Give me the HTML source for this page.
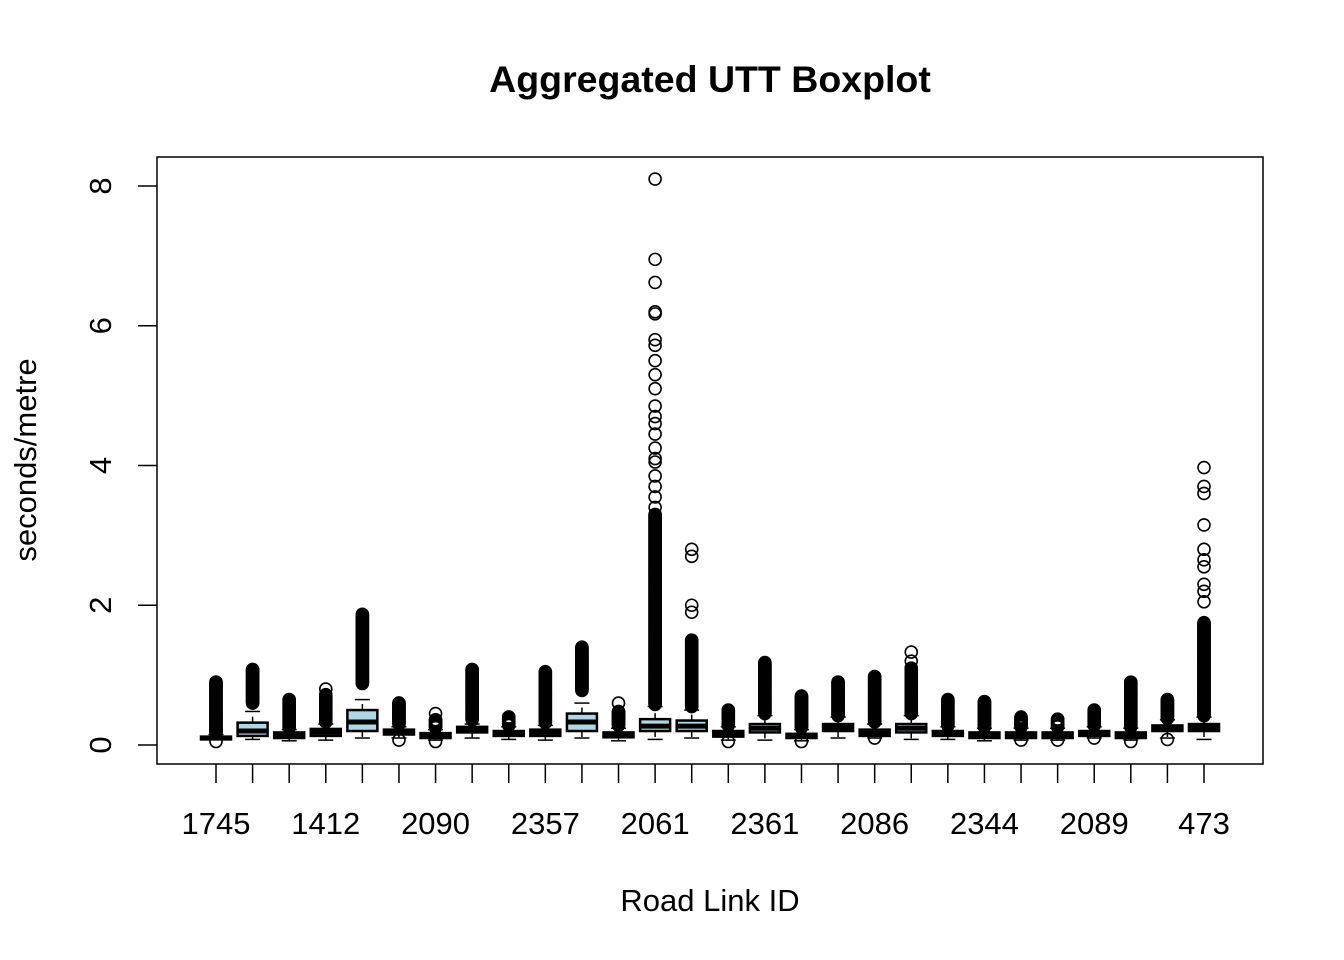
<!DOCTYPE html>
<html><head><meta charset="utf-8"><style>
html,body{margin:0;padding:0;background:#fff;}
svg{display:block;font-family:"Liberation Sans",Arial,sans-serif;}
</style></head><body>
<svg id="chart" width="1344" height="960" viewBox="0 0 1344 960">
<rect width="1344" height="960" fill="#fff"/>
<text x="710" y="92" font-size="37.5" font-weight="bold" text-anchor="middle">Aggregated UTT Boxplot</text>
<text x="710" y="911" font-size="31" text-anchor="middle">Road Link ID</text>
<text transform="translate(36,460) rotate(-90)" font-size="31" text-anchor="middle">seconds/metre</text>
<rect x="157" y="157" width="1106" height="607" fill="none" stroke="#000" stroke-width="1.5"/>
<g id="marks"></g>
</svg>
<script>
const categories=["1745","c2","c3","1412","c5","c6","2090","c8","c9","2357","c11","c12","2061","c14","c15","2361","c17","c18","2086","c20","c21","2344","c23","c24","2089","c26","c27","473"];
const q1=[0.08,0.13,0.10,0.13,0.20,0.15,0.10,0.18,0.13,0.13,0.20,0.11,0.20,0.20,0.12,0.18,0.10,0.20,0.13,0.18,0.13,0.10,0.10,0.10,0.13,0.10,0.20,0.20];
const med=[0.10,0.20,0.15,0.18,0.33,0.18,0.13,0.22,0.16,0.18,0.33,0.14,0.27,0.27,0.16,0.24,0.13,0.25,0.17,0.24,0.16,0.14,0.14,0.14,0.16,0.14,0.24,0.25];
const q3=[0.12,0.32,0.18,0.23,0.50,0.22,0.17,0.26,0.20,0.22,0.45,0.18,0.37,0.35,0.20,0.30,0.16,0.30,0.22,0.30,0.20,0.18,0.18,0.18,0.20,0.18,0.28,0.30];
const wlo=[0.08,0.08,0.06,0.07,0.10,0.10,0.07,0.10,0.08,0.07,0.10,0.06,0.08,0.10,0.07,0.07,0.06,0.10,0.10,0.08,0.08,0.06,0.07,0.07,0.10,0.07,0.10,0.08];
const whi=[0.15,0.48,0.22,0.30,0.65,0.26,0.22,0.30,0.26,0.28,0.60,0.24,0.55,0.50,0.26,0.42,0.22,0.40,0.30,0.42,0.26,0.24,0.24,0.24,0.26,0.24,0.36,0.40];
const denseLo=[0.18,0.60,0.25,0.33,0.88,0.30,0.25,0.36,0.28,0.32,0.78,0.28,0.58,0.55,0.28,0.45,0.25,0.42,0.33,0.45,0.28,0.26,0.26,0.26,0.28,0.26,0.38,0.42];
const denseHi=[0.90,1.08,0.65,0.72,1.87,0.60,0.36,1.08,0.40,1.05,1.40,0.48,3.30,1.50,0.50,1.18,0.70,0.90,0.98,1.10,0.65,0.62,0.40,0.37,0.50,0.90,0.65,1.75];
const lowOut=[[0.05],[],[],[],[],[0.07],[0.05],[],[],[],[],[],[],[],[0.05],[],[0.05],[],[0.1],[],[],[],[0.07],[0.07],[0.1],[0.05],[0.08],[]];
const sparseOut=[[],[],[],[0.8],[],[],[0.45],[],[],[],[],[0.6],[8.1,6.95,6.62,6.2,6.17,5.8,5.72,5.5,5.3,5.1,4.85,4.7,4.6,4.45,4.25,4.1,4.05,3.85,3.7,3.55,3.4],[1.9,2.0,2.7,2.8],[],[],[],[],[],[1.2,1.33],[],[],[],[],[],[],[],[2.05,2.2,2.3,2.55,2.65,2.8,3.15,3.6,3.7,3.97]];
const yTicks=[0,2,4,6,8];

const NS="http://www.w3.org/2000/svg";
const g=document.getElementById('marks');
const X0=216,DX=(1204-216)/27;
function xs(i){return X0+i*DX;}
function ys(v){return 745-v*(745-186)/8;}
function mk(tag,attrs,parent){const e=document.createElementNS(NS,tag);for(const k in attrs)e.setAttribute(k,attrs[k]);(parent||g).appendChild(e);return e;}
yTicks.forEach(t=>{
  const l=mk('line',{x1:138,x2:157,y1:ys(t),y2:ys(t),stroke:'#000','stroke-width':1.5});
  
  
  const tx=mk('text',{transform:`translate(111,${ys(t)}) rotate(-90)`,'font-size':31,'text-anchor':'middle'});
  tx.textContent=t;
  
  
});
categories.forEach((c,i)=>{
  const x=xs(i);
  const t=mk('line',{x1:x,x2:x,y1:764,y2:783,stroke:'#000','stroke-width':1.5});
  
  
  if(i%3===0){
    const tx=mk('text',{x:x,y:834,'font-size':31,'text-anchor':'middle'});
    tx.textContent=c;
    
    
  }
  const bg=mk('g',{});
  
  
  const hw=15;
  mk('line',{x1:x,x2:x,y1:ys(q3[i]),y2:ys(whi[i]),stroke:'#000','stroke-width':1.5,'stroke-dasharray':'6,6'},bg);
  mk('line',{x1:x,x2:x,y1:ys(q1[i]),y2:ys(wlo[i]),stroke:'#000','stroke-width':1.5,'stroke-dasharray':'6,6'},bg);
  mk('line',{x1:x-7.5,x2:x+7.5,y1:ys(whi[i]),y2:ys(whi[i]),stroke:'#000','stroke-width':1.5},bg);
  mk('line',{x1:x-7.5,x2:x+7.5,y1:ys(wlo[i]),y2:ys(wlo[i]),stroke:'#000','stroke-width':1.5},bg);
  const circ=v=>mk('circle',{cx:x,cy:ys(v),r:6,fill:'none',stroke:'#000','stroke-width':1.6},bg);
  for(let v=denseLo[i];v<=denseHi[i]+1e-9;v+=0.012)circ(v);
  circ(denseHi[i]);
  sparseOut[i].forEach(circ);
  lowOut[i].forEach(circ);
  const by=ys(q3[i]),bh=Math.max(ys(q1[i])-ys(q3[i]),1);
  mk('rect',{x:x-hw,y:by,width:2*hw,height:bh,fill:'#ADD8E6',stroke:'#000','stroke-width':2.5},bg);
  mk('line',{x1:x-hw,x2:x+hw,y1:ys(med[i]),y2:ys(med[i]),stroke:'#000','stroke-width':5},bg);
});
</script>
</body></html>
